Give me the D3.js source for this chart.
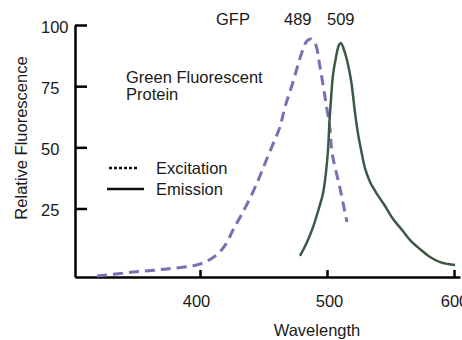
<!DOCTYPE html>
<html>
<head>
<meta charset="utf-8">
<script src="https://cdn.jsdelivr.net/npm/d3@7"></script>
<style>
  body { margin: 0; background: #fff; }
  svg text { font-family: "Liberation Sans", Arial, sans-serif; font-size: 16.5px; fill: #1a1a1a; }
</style>
</head>
<body>
<div id="chart"></div>
<script>
// excitation spectrum (dashed)
const exWavelength = [319, 347, 374, 400, 413, 420, 426, 432, 439.4, 445.9, 451.2, 457.7, 463, 467, 473, 480, 484, 487, 490.6, 494.5, 498.4, 502.4, 504, 510, 515.7];
const exValues     = [-2.6, -1.0, 0.3, 2.3, 6.0, 10.1, 16.2, 21.8, 29.2, 36.6, 43.5, 51.6, 58.4, 66.6, 76.3, 88.5, 93.4, 94.3, 92.6, 82.8, 70.6, 57.1, 47.7, 33.8, 19.5];

// emission spectrum (solid)
const emWavelength = [478.7, 484.3, 489, 493.7, 496.9, 499.2, 500.8, 502, 503.1, 504.7, 507.1, 509.4, 511, 513.4, 515.7, 518.9, 522, 524.6, 527.3, 529.9, 533.9, 539.4, 545.7, 552, 559.1, 565.4, 573.2, 581.1, 589, 595.3, 600.8];
const emValues     = [5.6, 11.3, 17.4, 25.2, 31.3, 39.9, 48.9, 61.2, 69.3, 79.5, 86.9, 91.8, 92.6, 89.8, 85.7, 77.5, 64.4, 55.0, 47.7, 41.5, 35.8, 30.9, 26.0, 20.7, 16.2, 12.1, 8.4, 5.2, 3.1, 2.3, 1.9];

const xTicks = [400, 500, 600];
const yTicks = [25, 50, 75, 100];

const width = 462, height = 340;
const exColor = "#7a70b0";
const emColor = "#3d5944";

const svg = d3.select("#chart").append("svg")
    .attr("width", width)
    .attr("height", height);

const x = d3.scaleLinear().domain([301.6, 604.7]).range([75, 460]);
const y = d3.scaleLinear().domain([-3, 100]).range([277, 25]);

// axes
const xAxis = svg.append("g")
    .attr("transform", `translate(0,${y(-3)})`)
    .call(d3.axisBottom(x).tickValues(xTicks).tickSizeInner(-7).tickSizeOuter(0));
xAxis.selectAll("text").attr("y", 30).attr("dy", 0).attr("x", (d, i) => [-4, 2, 0][i]);

const yAxis = svg.append("g")
    .attr("transform", `translate(${x(301.6)},0)`)
    .call(d3.axisLeft(y).tickValues(yTicks).tickSizeInner(-12).tickSizeOuter(0));
yAxis.selectAll("text")
    .attr("x", -34)
    .attr("dy", "0.45em")
    .style("text-anchor", "start");

svg.selectAll(".domain, .tick line")
    .attr("stroke", "#000")
    .attr("stroke-width", 2.5);
svg.selectAll(".tick text").attr("fill", "#1a1a1a").style("font-size", "16.5px");

// curves
const line = d3.line()
    .x(d => x(d[0]))
    .y(d => y(d[1]))
    .curve(d3.curveCatmullRom.alpha(0.5));

svg.append("path")
    .datum(d3.zip(exWavelength, exValues))
    .attr("fill", "none")
    .attr("stroke", exColor)
    .attr("stroke-width", 3)
    .attr("stroke-dasharray", "10,6")
    .attr("d", line);

svg.append("path")
    .datum(d3.zip(emWavelength, emValues))
    .attr("fill", "none")
    .attr("stroke", emColor)
    .attr("stroke-width", 2.5)
    .attr("d", line);

// axis titles
svg.append("text")
    .attr("x", 317)
    .attr("y", 336)
    .style("text-anchor", "middle")
    .text("Wavelength");

svg.append("text")
    .attr("transform", "rotate(-90)")
    .attr("x", -138)
    .attr("y", 27)
    .style("text-anchor", "middle")
    .text("Relative Fluorescence");

// annotations
svg.append("text").attr("x", 216).attr("y", 25).text("GFP");
svg.append("text").attr("x", 284).attr("y", 25).text("489");
svg.append("text").attr("x", 327).attr("y", 25).text("509");

svg.append("text").attr("x", 126).attr("y", 83).text("Green Fluorescent");
svg.append("text").attr("x", 126).attr("y", 100).text("Protein");

// legend
svg.append("line")
    .attr("x1", 109).attr("x2", 137)
    .attr("y1", 168).attr("y2", 168)
    .attr("stroke", "#111")
    .attr("stroke-width", 2.5)
    .attr("stroke-dasharray", "3,2");
svg.append("text").attr("x", 156).attr("y", 174).text("Excitation");

svg.append("line")
    .attr("x1", 107).attr("x2", 144)
    .attr("y1", 189).attr("y2", 189)
    .attr("stroke", "#111")
    .attr("stroke-width", 2.5);
svg.append("text").attr("x", 156).attr("y", 195).text("Emission");
</script>
</body>
</html>
